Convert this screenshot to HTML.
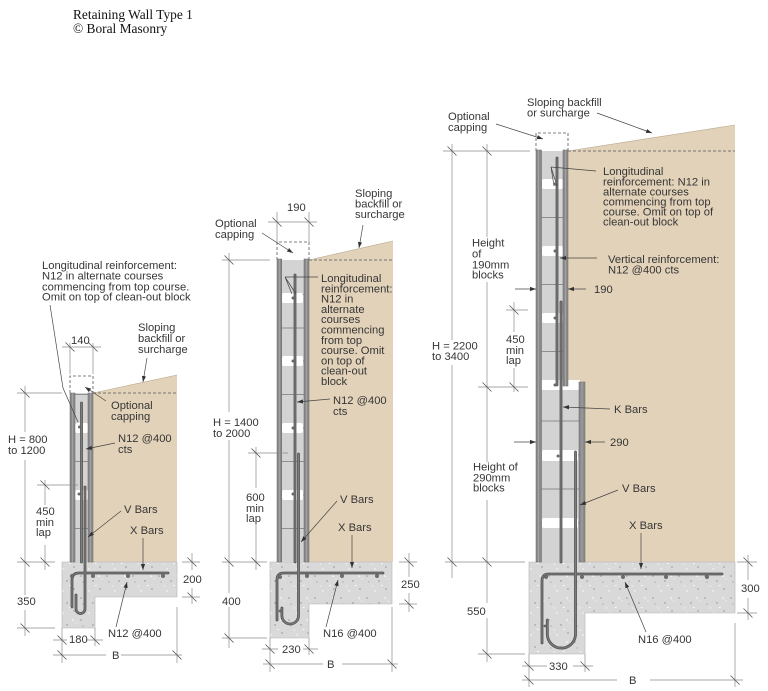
<!DOCTYPE html>
<html><head><meta charset="utf-8"><style>
html,body{margin:0;padding:0;background:#fff;}
svg{display:block;}
.t{font-family:"Liberation Sans",Arial,sans-serif;font-size:11.2px;fill:#363636;}
.ti{font-family:"Liberation Serif","Times New Roman",serif;font-size:13.4px;fill:#111;}
</style></head><body>
<svg width="768" height="691" viewBox="0 0 768 691" xmlns="http://www.w3.org/2000/svg">
<defs>
<marker id="ar" viewBox="0 0 10 10" refX="10" refY="5" markerWidth="6" markerHeight="6" orient="auto" markerUnits="userSpaceOnUse"><path d="M0,1.5 L10,5 L0,8.5z" fill="#333"/></marker>
<pattern id="cc" width="26" height="22" patternUnits="userSpaceOnUse">
<rect width="26" height="22" fill="#d9d9d9"/>
<circle cx="3" cy="4" r="0.8" fill="#9a9a9a"/>
<circle cx="15" cy="9" r="0.7" fill="#8a8a8a"/>
<path d="M20 3l2 1-1 1.5z" fill="#fff"/>
<path d="M7 14l1.8-0.8 0.5 1.6z" fill="#f6f6f6"/>
<circle cx="22" cy="17" r="0.9" fill="#a5a5a5"/>
<circle cx="11" cy="19" r="0.7" fill="#fff"/>
<rect x="17" y="13" width="1.5" height="1" fill="#fff"/>
<circle cx="5" cy="10" r="0.5" fill="#777"/>
<circle cx="24" cy="7" r="0.5" fill="#fff"/>
</pattern>
</defs>

<text class="ti" x="73" y="19">Retaining Wall Type 1</text>
<text class="ti" x="73" y="33">© Boral Masonry</text>

<!-- backfill -->
<g fill="#e2d2b9">
<polygon points="93,393 177,375 177,562 93,562"/>
<polygon points="309,260 393,241 393,562 309,562"/>
<polygon points="568,151 735,125 735,562 585,562 585,383 568,383"/>
</g>
<g stroke="#b7a78c" stroke-width="0.6" fill="none">
<path d="M93 393L177 375M309 260L393 241M568 151L735 125"/>
</g>

<!-- footings -->
<g fill="url(#cc)" stroke="#b5b5b5" stroke-width="0.6">
<polygon points="62,562 177,562 177,597 95,597 95,628 62,628"/>
<polygon points="270,562 392,562 392,604 309,604 309,638 270,638"/>
<polygon points="529,562 735,562 735,613 585,613 585,654 529,654"/>
</g>

<!-- dashed tops and capping -->
<g stroke="#555" stroke-width="0.8" stroke-dasharray="3 2" fill="none">
<path d="M93 393H177M309 260H393M568 151H735"/>
<path d="M70 393V376H93V393M277 260V242H309V260M536 151V133H568V151"/>
</g>

<!-- walls cores -->
<g fill="#d3d3d3">
<rect x="70" y="393" width="23" height="169"/>
<rect x="277" y="260" width="32" height="302"/>
<rect x="536" y="151" width="32" height="236"/>
<rect x="536" y="387" width="49" height="175"/>
</g>
<!-- joints -->
<g stroke="#8f8f8f" stroke-width="0.9" fill="none">
<path d="M70 394.5H93M70 428H93M70 461.5H93M70 495H93M70 528.5H93"/>
<path d="M277 294.5H309M277 328H309M277 361H309M277 394.5H309M277 428H309M277 461.5H309M277 495H309M277 528.5H309"/>
<path d="M536 184H568M536 217.5H568M536 251H568M536 284.5H568M536 318H568M536 351.5H568M536 421H585M536 455H585M536 489H585M536 523H585"/>
</g>
<!-- openings -->
<g fill="#fff">
<rect x="75" y="423" width="13" height="10" rx="2"/>
<rect x="75" y="490" width="13" height="10" rx="2"/>
<rect x="282" y="293" width="21" height="10" rx="2"/>
<rect x="282" y="356" width="21" height="10" rx="2"/>
<rect x="282" y="423" width="21" height="10" rx="2"/>
<rect x="282" y="490" width="21" height="10" rx="2"/>
<rect x="542" y="179" width="21" height="10" rx="2"/>
<rect x="542" y="246" width="21" height="10" rx="2"/>
<rect x="542" y="313" width="21" height="10" rx="2"/>
<rect x="541.5" y="380" width="38" height="10" rx="1.5"/>
<rect x="568" y="380" width="12" height="8"/>
<rect x="542" y="450" width="36" height="11" rx="2"/>
<rect x="542" y="518" width="36" height="10" rx="2"/>
</g>
<!-- shells -->
<g fill="#8b8b8b" stroke="#646464" stroke-width="0.5">
<rect x="70" y="393" width="5" height="169"/>
<rect x="88" y="393" width="5" height="169"/>
<rect x="277" y="259" width="4.7" height="303"/>
<rect x="304" y="259" width="5" height="303"/>
<rect x="536" y="150" width="5.5" height="412"/>
<rect x="563" y="150" width="5" height="236"/>
<rect x="579" y="382" width="6" height="180"/>
</g>
<g stroke="#b3b3b3" stroke-width="0.6" fill="none">
<path d="M72.5 393V562M90.5 393V562M279.3 259V562M306.5 259V562M538.7 150V562M565.5 150V386M582 382V562"/>
</g>

<!-- bars -->
<g fill="none" stroke-linecap="round">
<g stroke="#555" stroke-width="2.8">
<path d="M81.5 403V562"/>
<path d="M85 487V609A4.5 4.5 0 0 1 76 609V595"/>
<path d="M72 607V580Q72 573 79 573H168"/>
<path d="M295 275V562"/>
<path d="M298.5 454V615.7A8.3 8.3 0 0 1 281.9 615.7V608"/>
<path d="M277 620V580Q277 573 284 573H383"/>
<path d="M557 158V385"/>
<path d="M561 302V562"/>
<path d="M575.5 452V634A14.1 14.1 0 0 1 547.3 634V620"/>
<path d="M542 643V581Q542 574 549 574H722"/>
</g>
<g stroke="#7d7d7d" stroke-width="1.1">
<path d="M81.5 403V562"/>
<path d="M85 487V609A4.5 4.5 0 0 1 76 609V595"/>
<path d="M72 607V580Q72 573 79 573H168"/>
<path d="M295 275V562"/>
<path d="M298.5 454V615.7A8.3 8.3 0 0 1 281.9 615.7V608"/>
<path d="M277 620V580Q277 573 284 573H383"/>
<path d="M557 158V385"/>
<path d="M561 302V562"/>
<path d="M575.5 452V634A14.1 14.1 0 0 1 547.3 634V620"/>
<path d="M542 643V581Q542 574 549 574H722"/>
</g>
</g>
<!-- dots -->
<g fill="#6d6d6d" stroke="#555" stroke-width="0.4">
<circle cx="72" cy="576" r="1.8"/><circle cx="93" cy="576" r="1.8"/><circle cx="128" cy="576" r="1.8"/><circle cx="163" cy="576" r="1.8"/>
<circle cx="280" cy="577" r="1.8"/><circle cx="307" cy="576" r="1.8"/><circle cx="342" cy="576" r="1.8"/><circle cx="377" cy="576" r="1.8"/>
<circle cx="546" cy="577" r="1.8"/><circle cx="582" cy="577" r="1.8"/><circle cx="623" cy="577" r="1.8"/><circle cx="666" cy="577" r="1.8"/><circle cx="707" cy="577" r="1.8"/>
<circle cx="79.5" cy="427" r="1.3"/><circle cx="79" cy="494" r="1.3"/>
<circle cx="293" cy="298" r="1.3"/><circle cx="293" cy="361" r="1.3"/><circle cx="293" cy="428" r="1.3"/><circle cx="293" cy="494" r="1.3"/>
<circle cx="555" cy="184" r="1.3"/><circle cx="555" cy="251" r="1.3"/><circle cx="555" cy="318" r="1.3"/><circle cx="555" cy="385" r="1.3"/><circle cx="558" cy="456" r="1.3"/>
<circle cx="280" cy="611" r="1.2"/><circle cx="545" cy="626" r="1.2"/>
</g>

<!-- dimension & extension lines -->
<g stroke="#8a8a8a" stroke-width="0.7" fill="none">
<path d="M62 347H101M70 343V374M93 343V374M25 386V432M25 460V595M25 610V636M17 393H62M17 562H55M17 628H55M37 485H78M45 480V505M45 545V570M182 562H200M182 597H200M192 553V570M192 588V604M53 640H67M87 640H103M62 628V663M95 628V646M53 655H106M121 655H182M177 607V663"/>
<path d="M268 222H317M277 212V242M309 212V242M229 253V412M229 440V593M229 607V648M222 260H270M222 562H267M222 638H267M248 453H288M256 447V488M256 525V570M399 562H417M399 604H417M409 553V577M409 593V612M262 649H278M303 649H318M270 638V672M309 638V655M263 664H323M342 664H398M392 607V672"/>
<path d="M452 144V340M452 365V578M487 144V237M487 282V392M443 151H530M514 302V332M514 368V392M506 310H528M478 387H528M487 387V462M487 500V570M445 562H525M478 654H525M487 562V603M487 618V662M737 562H757M737 613H757M748 555V580M748 598V620M522 666H547M573 666H593M529 654V687M585 654V672M522 680H617M650 680H743M735 623V687"/>
</g>
<!-- ticks -->
<g stroke="#555" stroke-width="0.8" fill="none">
<path d="M65.5 342.5l9 9M88.5 342.5l9 9M20.5 388.5l9 9M20.5 557.5l9 9M20.5 623.5l9 9M40.5 480.5l9 9M40.5 557.5l9 9M187.5 557.5l9 9M187.5 592.5l9 9M57.5 635.5l9 9M90.5 635.5l9 9M57.5 650.5l9 9M172.5 650.5l9 9"/>
<path d="M272.5 217.5l9 9M304.5 217.5l9 9M224.5 255.5l9 9M224.5 557.5l9 9M224.5 633.5l9 9M251.5 448.5l9 9M251.5 557.5l9 9M404.5 557.5l9 9M404.5 599.5l9 9M265.5 644.5l9 9M304.5 644.5l9 9M265.5 659.5l9 9M387.5 659.5l9 9"/>
<path d="M447.5 146.5l9 9M482.5 146.5l9 9M447.5 557.5l9 9M482.5 382.5l9 9M509.5 305.5l9 9M509.5 382.5l9 9M482.5 557.5l9 9M482.5 649.5l9 9M743.5 557.5l9 9M743.5 608.5l9 9M524.5 661.5l9 9M580.5 661.5l9 9M524.5 675.5l9 9M730.5 675.5l9 9"/>
</g>

<!-- leaders -->
<g stroke="#444" stroke-width="0.7" fill="none">
<path d="M50 305L63 388L78 422"/>
<path d="M318 277H285M285 277L292 294M285 277L296 294"/>
<path d="M596 171L551 167M551 167L554 186M551 167L557 186"/>
</g>
<g stroke="#444" stroke-width="0.7" fill="none" marker-end="url(#ar)">
<path d="M147 358L143 382"/>
<path d="M106 401L85 387"/>
<path d="M115 443L86 449"/>
<path d="M121 511L88 537"/>
<path d="M143 538V570"/>
<path d="M116 627L127 582"/>
<path d="M262 233L293 253"/>
<path d="M363 225L359 248"/>
<path d="M330 399L297 402"/>
<path d="M337 501L301 542"/>
<path d="M352 535V568"/>
<path d="M326 627L338 580"/>
<path d="M496 124L543 139"/>
<path d="M597 113L652 133"/>
<path d="M597 258H560"/>
<path d="M610 409L563 407"/>
<path d="M618 490L580 505"/>
<path d="M641 533V569"/>
<path d="M646 632L625 582"/>
<path d="M515 289H536"/>
<path d="M586 289H568"/>
<path d="M514 442H536"/>
<path d="M605 442H585"/>
</g>

<!-- labels: left -->
<text class="t" x="42" y="269">Longitudinal reinforcement:</text>
<text class="t" x="42" y="279.7">N12 in alternate courses</text>
<text class="t" x="42" y="290.7">commencing from top course.</text>
<text class="t" x="42" y="300.7">Omit on top of clean-out block</text>
<text class="t" x="71" y="344">140</text>
<text class="t" x="138" y="331">Sloping</text>
<text class="t" x="138" y="342">backfill or</text>
<text class="t" x="138" y="353">surcharge</text>
<text class="t" x="111" y="409">Optional</text>
<text class="t" x="111" y="420">capping</text>
<text class="t" x="8" y="443">H = 800</text>
<text class="t" x="8" y="454">to 1200</text>
<text class="t" x="118" y="442">N12 @400</text>
<text class="t" x="118" y="453">cts</text>
<text class="t" x="36" y="515">450</text>
<text class="t" x="36" y="526">min</text>
<text class="t" x="36" y="536">lap</text>
<text class="t" x="124" y="513">V Bars</text>
<text class="t" x="130" y="534">X Bars</text>
<text class="t" x="183" y="583">200</text>
<text class="t" x="17" y="605">350</text>
<text class="t" x="108" y="637">N12 @400</text>
<text class="t" x="69" y="643">180</text>
<text class="t" x="112" y="659">B</text>

<!-- labels: middle -->
<text class="t" x="287" y="211">190</text>
<text class="t" x="215" y="227">Optional</text>
<text class="t" x="215" y="238">capping</text>
<text class="t" x="355" y="197">Sloping</text>
<text class="t" x="355" y="207.5">backfill or</text>
<text class="t" x="355" y="218">surcharge</text>
<text class="t" x="321" y="282">Longitudinal</text>
<text class="t" x="321" y="292.3">reinforcement:</text>
<text class="t" x="321" y="302.6">N12 in</text>
<text class="t" x="321" y="312.9">alternate</text>
<text class="t" x="321" y="323.2">courses</text>
<text class="t" x="321" y="333.5">commencing</text>
<text class="t" x="321" y="343.8">from top</text>
<text class="t" x="321" y="354.1">course. Omit</text>
<text class="t" x="321" y="364.4">on top of</text>
<text class="t" x="321" y="374.7">clean-out</text>
<text class="t" x="321" y="385">block</text>
<text class="t" x="333" y="404">N12 @400</text>
<text class="t" x="333" y="415">cts</text>
<text class="t" x="213" y="426">H = 1400</text>
<text class="t" x="213" y="437">to 2000</text>
<text class="t" x="246" y="501">600</text>
<text class="t" x="246" y="512">min</text>
<text class="t" x="246" y="522">lap</text>
<text class="t" x="340" y="503">V Bars</text>
<text class="t" x="338" y="531">X Bars</text>
<text class="t" x="401" y="588">250</text>
<text class="t" x="222" y="605">400</text>
<text class="t" x="323" y="637">N16 @400</text>
<text class="t" x="282" y="653">230</text>
<text class="t" x="327" y="668">B</text>

<!-- labels: right -->
<text class="t" x="448" y="120">Optional</text>
<text class="t" x="448" y="131">capping</text>
<text class="t" x="527" y="106">Sloping backfill</text>
<text class="t" x="527" y="116.5">or surcharge</text>
<text class="t" x="603" y="175">Longitudinal</text>
<text class="t" x="603" y="185.7">reinforcement: N12 in</text>
<text class="t" x="603" y="195.7">alternate courses</text>
<text class="t" x="603" y="205.7">commencing from top</text>
<text class="t" x="603" y="215.7">course. Omit on top of</text>
<text class="t" x="603" y="225.7">clean-out block</text>
<text class="t" x="608" y="263">Vertical reinforcement:</text>
<text class="t" x="608" y="273.5">N12 @400 cts</text>
<text class="t" x="472" y="246.7">Height</text>
<text class="t" x="472" y="257.3">of</text>
<text class="t" x="472" y="268.3">190mm</text>
<text class="t" x="472" y="278.3">blocks</text>
<text class="t" x="594" y="293">190</text>
<text class="t" x="506" y="343">450</text>
<text class="t" x="506" y="354">min</text>
<text class="t" x="506" y="364">lap</text>
<text class="t" x="432" y="349.7">H = 2200</text>
<text class="t" x="432" y="360">to 3400</text>
<text class="t" x="614" y="413">K Bars</text>
<text class="t" x="610" y="446">290</text>
<text class="t" x="473" y="470.7">Height of</text>
<text class="t" x="473" y="481.3">290mm</text>
<text class="t" x="473" y="491.7">blocks</text>
<text class="t" x="622" y="492">V Bars</text>
<text class="t" x="629" y="529">X Bars</text>
<text class="t" x="467" y="615">550</text>
<text class="t" x="741" y="592">300</text>
<text class="t" x="638" y="643">N16 @400</text>
<text class="t" x="549" y="670">330</text>
<text class="t" x="629" y="684">B</text>
</svg>
</body></html>
